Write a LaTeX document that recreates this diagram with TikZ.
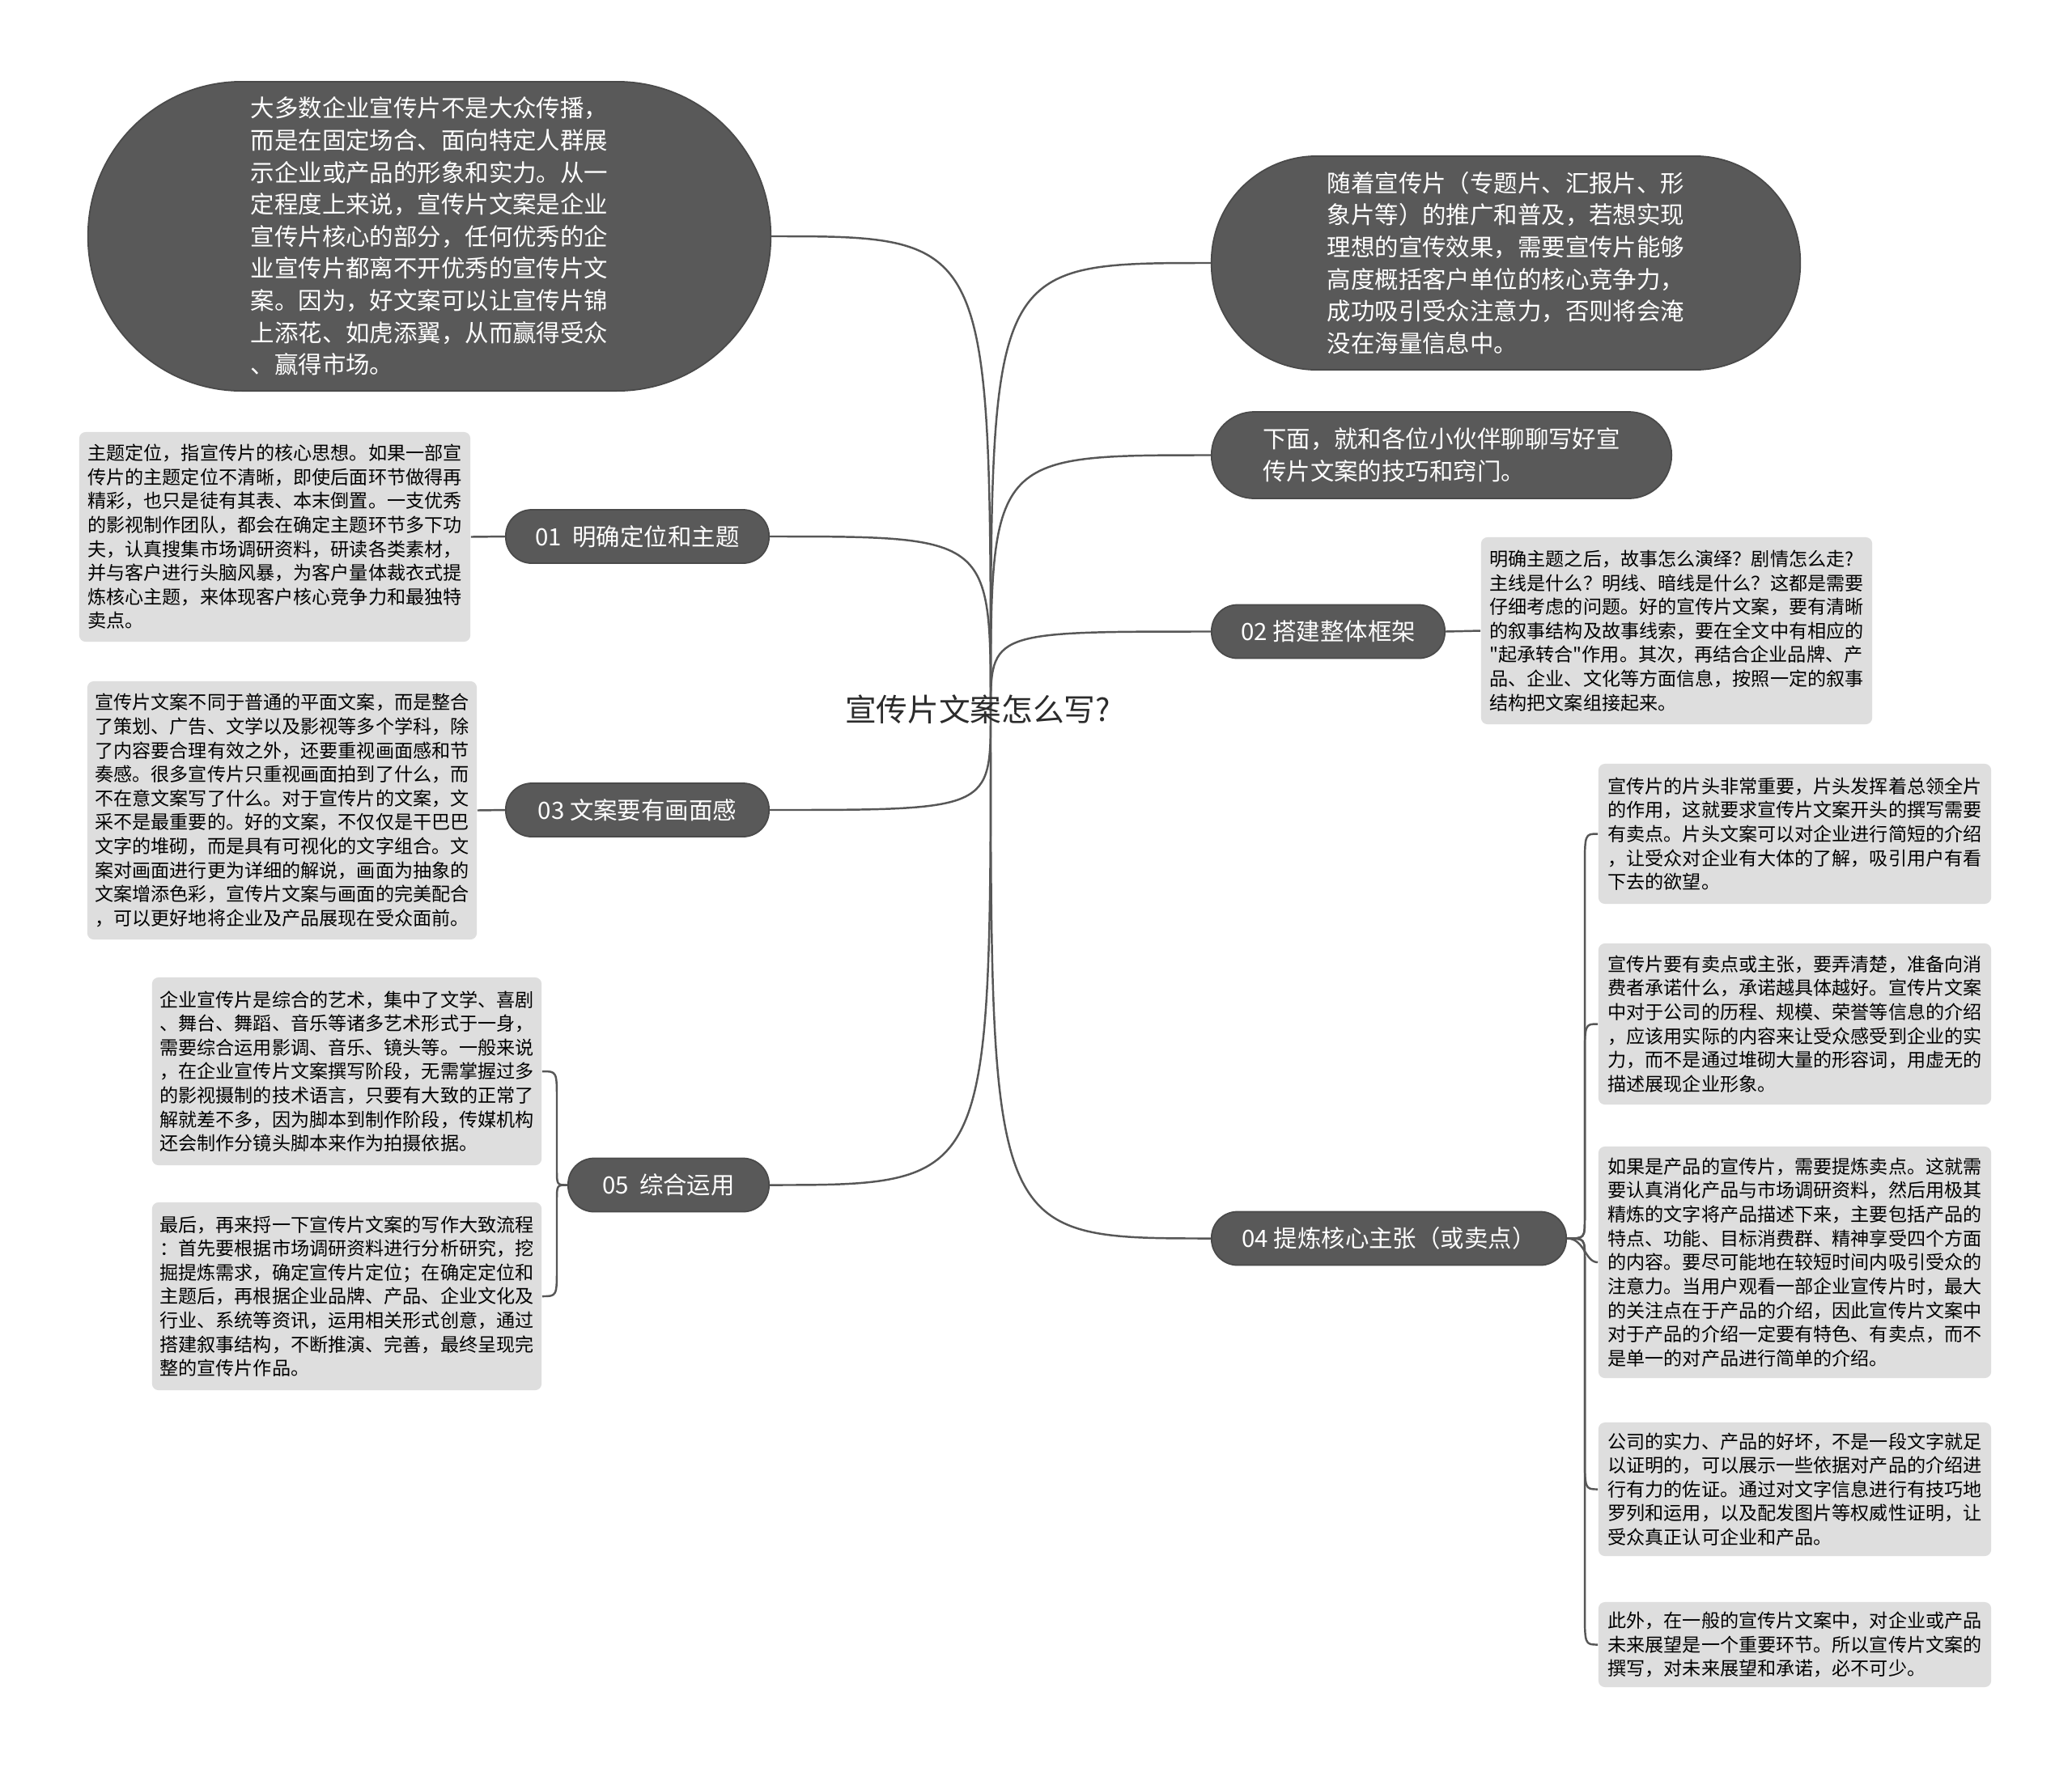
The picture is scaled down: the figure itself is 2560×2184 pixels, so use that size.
\documentclass[tikz,border=0pt]{standalone}
\usepackage{fontspec}
\setmainfont{Noto Sans CJK SC}
\newfontfamily\qfont{Noto Sans CJK SC}
\definecolor{darkc}{HTML}{595959}
\definecolor{darkb}{HTML}{4A4A4A}
\definecolor{leafc}{HTML}{DEDEDE}
\definecolor{linec}{HTML}{575757}
\definecolor{centc}{HTML}{2B2B2B}
\newcommand\leaffont{\fontsize{6.57pt}{8.42pt}\selectfont}
\newcommand\darkfont{\fontsize{8.37pt}{11.27pt}\selectfont}
\newcommand\centfont{\fontsize{11pt}{13pt}\selectfont}
\newcommand\sq{{\qfont"}}
\tikzset{
  conn/.style={draw=linec, line width=0.7pt},
  dark/.style={fill=darkc, draw=darkb, line width=0.5pt, text=white, inner sep=0pt, align=left, font=\darkfont},
  topic/.style={dark, align=center, rounded corners=0.32cm, minimum height=0.66cm},
  leaf/.style={fill=leafc, inner sep=0pt, align=left, font=\leaffont, rounded corners=0.08cm, text=black},
}
\begin{document}
\begin{tikzpicture}[x=0.01cm,y=-0.01cm]
\fill[white] (0,0) rectangle (2560,2184);
\useasboundingbox (0,0) rectangle (2560,2184);
\coordinate (c) at (1224,880);

% main nodes
\node[dark, rounded corners=1.9cm, minimum width=8.43cm, minimum height=3.82cm] (tl) at (530.5,292) {大多数企业宣传片不是大众传播，\\而是在固定场合、面向特定人群展\\示企业或产品的形象和实力。从一\\定程度上来说，宣传片文案是企业\\宣传片核心的部分，任何优秀的企\\业宣传片都离不开优秀的宣传片文\\案。因为，好文案可以让宣传片锦\\上添花、如虎添翼，从而赢得受众\\、赢得市场。};
\node[dark, rounded corners=1.3cm, minimum width=7.27cm, minimum height=2.64cm] (tr) at (1860.5,325) {随着宣传片（专题片、汇报片、形\\象片等）的推广和普及，若想实现\\理想的宣传效果，需要宣传片能够\\高度概括客户单位的核心竞争力，\\成功吸引受众注意力，否则将会淹\\没在海量信息中。};
\node[dark, rounded corners=0.53cm, minimum width=5.68cm, minimum height=1.07cm] (nx) at (1781,562.5) {下面，就和各位小伙伴聊聊写好宣\\传片文案的技巧和窍门。};
\node[topic, minimum width=2.88cm] (n02) at (1641,780.5) {02 搭建整体框架};
\node[topic, minimum width=4.38cm] (n04) at (1716,1530.5) {04 提炼核心主张（或卖点）};
\node[topic, minimum width=3.25cm] (n01) at (787.5,663) {01\ \ 明确定位和主题};
\node[topic, minimum width=3.25cm] (n03) at (787.5,1001) {03 文案要有画面感};
\node[topic, minimum width=2.48cm] (n05) at (826,1464.5) {05\ \ 综合运用};

% leaves
\node[leaf, minimum width=4.83cm, minimum height=2.59cm] (l01) at (339.5,663.5) {主题定位，指宣传片的核心思想。如果一部宣\\传片的主题定位不清晰，即使后面环节做得再\\精彩，也只是徒有其表、本末倒置。一支优秀\\的影视制作团队，都会在确定主题环节多下功\\夫，认真搜集市场调研资料，研读各类素材，\\并与客户进行头脑风暴，为客户量体裁衣式提\\炼核心主题，来体现客户核心竞争力和最独特\\卖点。};
\node[leaf, minimum width=4.81cm, minimum height=3.19cm] (l03) at (348.5,1001.5) {宣传片文案不同于普通的平面文案，而是整合\\了策划、广告、文学以及影视等多个学科，除\\了内容要合理有效之外，还要重视画面感和节\\奏感。很多宣传片只重视画面拍到了什么，而\\不在意文案写了什么。对于宣传片的文案，文\\采不是最重要的。好的文案，不仅仅是干巴巴\\文字的堆砌，而是具有可视化的文字组合。文\\案对画面进行更为详细的解说，画面为抽象的\\文案增添色彩，宣传片文案与画面的完美配合\\，可以更好地将企业及产品展现在受众面前。};
\node[leaf, minimum width=4.81cm, minimum height=2.32cm] (l05a) at (428.5,1324) {企业宣传片是综合的艺术，集中了文学、喜剧\\、舞台、舞蹈、音乐等诸多艺术形式于一身，\\需要综合运用影调、音乐、镜头等。一般来说\\，在企业宣传片文案撰写阶段，无需掌握过多\\的影视摄制的技术语言，只要有大致的正常了\\解就差不多，因为脚本到制作阶段，传媒机构\\还会制作分镜头脚本来作为拍摄依据。};
\node[leaf, minimum width=4.81cm, minimum height=2.32cm] (l05b) at (428.5,1602) {最后，再来捋一下宣传片文案的写作大致流程\\：首先要根据市场调研资料进行分析研究，挖\\掘提炼需求，确定宣传片定位；在确定定位和\\主题后，再根据企业品牌、产品、企业文化及\\行业、系统等资讯，运用相关形式创意，通过\\搭建叙事结构，不断推演、完善，最终呈现完\\整的宣传片作品。};
\node[leaf, minimum width=4.83cm, minimum height=2.31cm] (l02) at (2071.5,779.5) {明确主题之后，故事怎么演绎？剧情怎么走?\\主线是什么？明线、暗线是什么？这都是需要\\仔细考虑的问题。好的宣传片文案，要有清晰\\的叙事结构及故事线索，要在全文中有相应的\\\sq 起承转合\sq 作用。其次，再结合企业品牌、产\\品、企业、文化等方面信息，按照一定的叙事\\结构把文案组接起来。};
\node[leaf, minimum width=4.85cm, minimum height=1.73cm] (l04a) at (2217.5,1030.5) {宣传片的片头非常重要，片头发挥着总领全片\\的作用，这就要求宣传片文案开头的撰写需要\\有卖点。片头文案可以对企业进行简短的介绍\\，让受众对企业有大体的了解，吸引用户有看\\下去的欲望。};
\node[leaf, minimum width=4.85cm, minimum height=1.99cm] (l04b) at (2217.5,1265.5) {宣传片要有卖点或主张，要弄清楚，准备向消\\费者承诺什么，承诺越具体越好。宣传片文案\\中对于公司的历程、规模、荣誉等信息的介绍\\，应该用实际的内容来让受众感受到企业的实\\力，而不是通过堆砌大量的形容词，用虚无的\\描述展现企业形象。};
\node[leaf, minimum width=4.85cm, minimum height=2.86cm] (l04c) at (2217.5,1560) {如果是产品的宣传片，需要提炼卖点。这就需\\要认真消化产品与市场调研资料，然后用极其\\精炼的文字将产品描述下来，主要包括产品的\\特点、功能、目标消费群、精神享受四个方面\\的内容。要尽可能地在较短时间内吸引受众的\\注意力。当用户观看一部企业宣传片时，最大\\的关注点在于产品的介绍，因此宣传片文案中\\对于产品的介绍一定要有特色、有卖点，而不\\是单一的对产品进行简单的介绍。};
\node[leaf, minimum width=4.85cm, minimum height=1.65cm] (l04d) at (2217.5,1840.5) {公司的实力、产品的好坏，不是一段文字就足\\以证明的，可以展示一些依据对产品的介绍进\\行有力的佐证。通过对文字信息进行有技巧地\\罗列和运用，以及配发图片等权威性证明，让\\受众真正认可企业和产品。};
\node[leaf, minimum width=4.85cm, minimum height=1.05cm] (l04e) at (2217.5,2032.5) {此外，在一般的宣传片文案中，对企业或产品\\未来展望是一个重要环节。所以宣传片文案的\\撰写，对未来展望和承诺，必不可少。};

% central connectors
\draw[conn] (c) .. controls (c |- tl.east) and (c |- tl.east) .. (tl.east);
\draw[conn] (c) .. controls (c |- n01.east) and (c |- n01.east) .. (n01.east);
\draw[conn] (c) .. controls (c |- n03.east) and (c |- n03.east) .. (n03.east);
\draw[conn] (c) .. controls (c |- n05.east) and (c |- n05.east) .. (n05.east);
\draw[conn] (c) .. controls (c |- tr.west) and (c |- tr.west) .. (tr.west);
\draw[conn] (c) .. controls (c |- nx.west) and (c |- nx.west) .. (nx.west);
\draw[conn] (c) .. controls (c |- n02.west) and (c |- n02.west) .. (n02.west);
\draw[conn] (c) .. controls (c |- n04.west) and (c |- n04.west) .. (n04.west);

% leaf connectors
\draw[conn] (l01.east) -- (n01.west);
\draw[conn] (l03.east) -- (n03.west);
\draw[conn] (n02.east) -- (l02.west);

% bracket 04
\draw[conn] (n04.east) .. controls (1958,1530.5) .. (1958,1505) -- (1958,1075) .. controls (1958,1030.5) .. (l04a.west);
\draw[conn] (n04.east) .. controls (1958,1530.5) .. (1958,1505) -- (1958,1310) .. controls (1958,1265.5) .. (l04b.west);
\draw[conn] (n04.east) .. controls (1958,1530.5) and (1958,1560) .. (l04c.west);
\draw[conn] (n04.east) .. controls (1958,1530.5) .. (1958,1556) -- (1958,1795) .. controls (1958,1840.5) .. (l04d.west);
\draw[conn] (n04.east) .. controls (1958,1530.5) .. (1958,1556) -- (1958,1988) .. controls (1958,2032.5) .. (l04e.west);

% bracket 05
\draw[conn] (n05.west) .. controls (688,1464.5) .. (688,1445) -- (688,1360) .. controls (688,1324) .. (l05a.east);
\draw[conn] (n05.west) .. controls (688,1464.5) .. (688,1484) -- (688,1566) .. controls (688,1602) .. (l05b.east);

% central topic
\node[font=\centfont, text=centc, inner sep=2pt] (ct) at (1208,877) {宣传片文案怎么写?};
\end{tikzpicture}
\end{document}
